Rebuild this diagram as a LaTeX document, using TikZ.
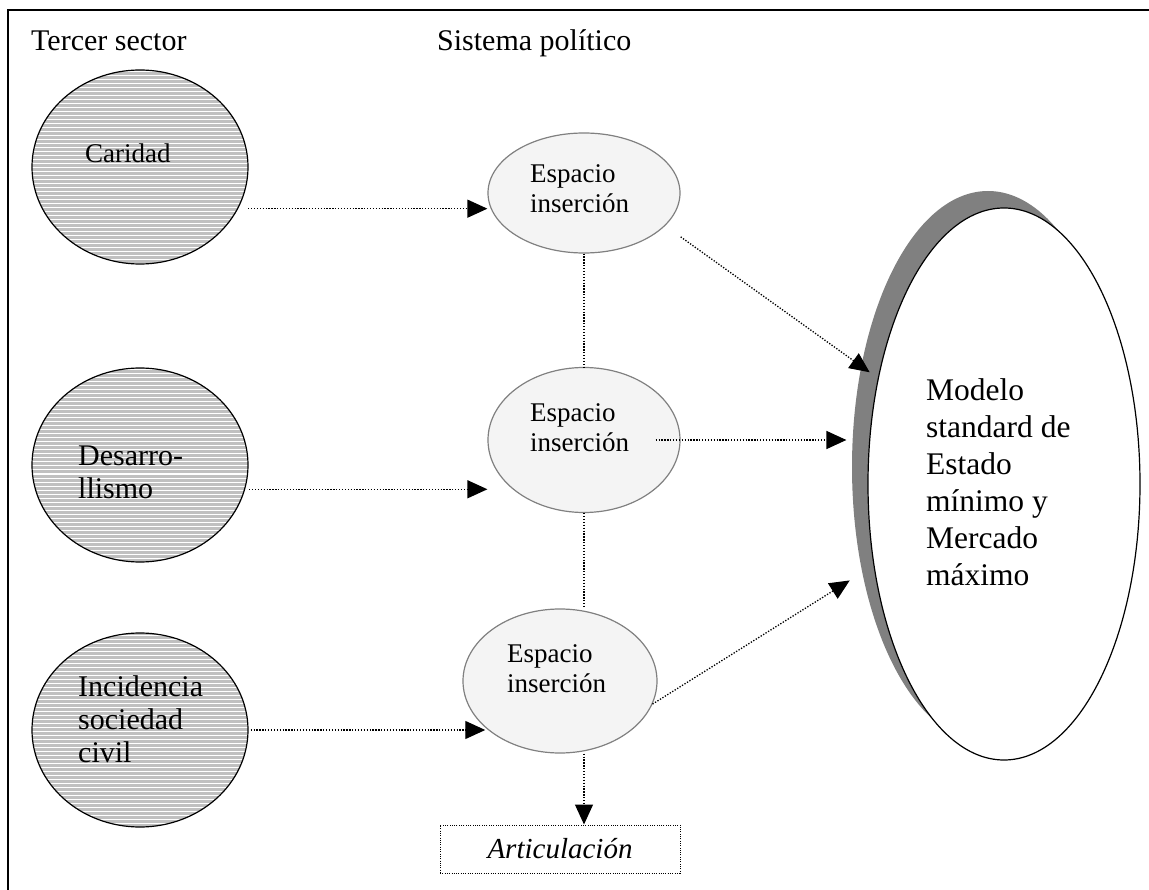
\documentclass[tikz,border=0pt]{standalone}
\usepackage{fontspec}
\setmainfont{Liberation Serif}
\usetikzlibrary{shapes.geometric,arrows.meta}
\definecolor{hatchgray}{RGB}{192,192,192}
\definecolor{espfill}{RGB}{244,244,244}
\definecolor{espline}{RGB}{128,128,128}
\definecolor{shadowgray}{RGB}{128,128,128}
\begin{document}
\begin{tikzpicture}[x=1pt,y=-1pt,
  sector/.style={ellipse, draw=black, line width=1.2pt, fill=hatchgray,
    minimum width=216pt, minimum height=194pt, inner sep=0pt,
    path picture={\foreach \k in {2,6,...,198}{\draw[white,line width=1pt]
      ([yshift=-\k pt]path picture bounding box.north west) --
      ([yshift=-\k pt]path picture bounding box.north east);}}},
  esp/.style={ellipse, draw=espline, fill=espfill, line width=1.2pt, inner sep=0pt},
  lbl/.style={inner sep=0pt, align=left, anchor=base west},
  big/.style={font=\fontsize{30}{33}\selectfont},
  small/.style={font=\fontsize{27}{30}\selectfont},
  huge/.style={font=\fontsize{31.5}{37}\selectfont},
  conn/.style={line width=1.3pt, dash pattern=on 1.3pt off 1.6pt},
  arr/.style={-{Triangle[length=20pt,width=18pt]}}
]
\useasboundingbox (0,0) rectangle (1149,890);
% frame
\draw[line width=2pt] (1149,10) -- (8,10) -- (8,890);
% headers
\node[lbl,big] (h1) at (31,51) {Tercer sector};
\node[lbl,big] (h2) at (437,51) {Sistema político};
% left ellipses
\node[sector] (car) at (140,167) {};
\node[sector] (des) at (140,465) {};
\node[sector] (inc) at (140,730) {};
\node[lbl,small] (tcar) at (85,163) {Caridad};
\node[lbl,big] (tdes) at (78,498) {Desarro-\\llismo};
\node[lbl,big] (tinc) at (78,762) {Incidencia\\sociedad\\civil};
% middle ellipses
\node[esp, minimum width=192pt, minimum height=120pt] (esp1) at (584,193) {};
\node[esp, minimum width=192pt, minimum height=145pt] (esp2) at (584,440) {};
\node[esp, minimum width=194pt, minimum height=144pt] (esp3) at (560,681) {};
\node[lbl,small] (tesp1) at (530,213) {Espacio\\inserción};
\node[lbl,small] (tesp2) at (530,452) {Espacio\\inserción};
\node[lbl,small] (tesp3) at (507,692) {Espacio\\inserción};
% model
\node[ellipse, fill=shadowgray, minimum width=272pt, minimum height=552pt, inner sep=0pt] (msh) at (988,467) {};
\node[ellipse, draw, fill=white, line width=1.2pt, minimum width=272pt, minimum height=552pt, inner sep=0pt] (mod) at (1004,484) {};
\node[lbl,huge] (tmod) at (926,585) {Modelo\\standard de\\Estado\\mínimo y\\Mercado\\máximo};
% articulacion
\node[draw, line width=1pt, dash pattern=on 1pt off 1.3pt, minimum width=240pt, minimum height=48pt,
  inner sep=0pt, font=\fontsize{29}{33}\selectfont\itshape] (art) at (560,849) {Articulación};
% connectors
\draw[conn,arr] ([xshift=10pt]car.-23) -- (car.-23 -| esp1.west);
\draw[conn,arr] ([xshift=4pt]des.-13.5) -- (des.-13.5 -| esp2.west);
\draw[conn,arr] ([xshift=2pt]inc.east) -- (inc.east -| esp3.212.6);
\draw[conn,arr,shorten <=19pt,shorten >=10pt] (esp1.-22) -- (mod.140);
\draw[conn,arr] ([xshift=-25pt]esp2.east) -- ([xshift=-21pt]esp2.east -| mod.west);
\draw[conn,arr,shorten >=28pt] (esp3.-14) -- (mod.212.5);
\draw[conn] (esp1.south) -- (esp2.north);
\draw[conn] (esp2.south) -- (esp2.south |- esp3.north);
\draw[conn,arr] (esp2.south |- esp3.south) -- (esp2.south |- art.north);
\end{tikzpicture}
\end{document}
